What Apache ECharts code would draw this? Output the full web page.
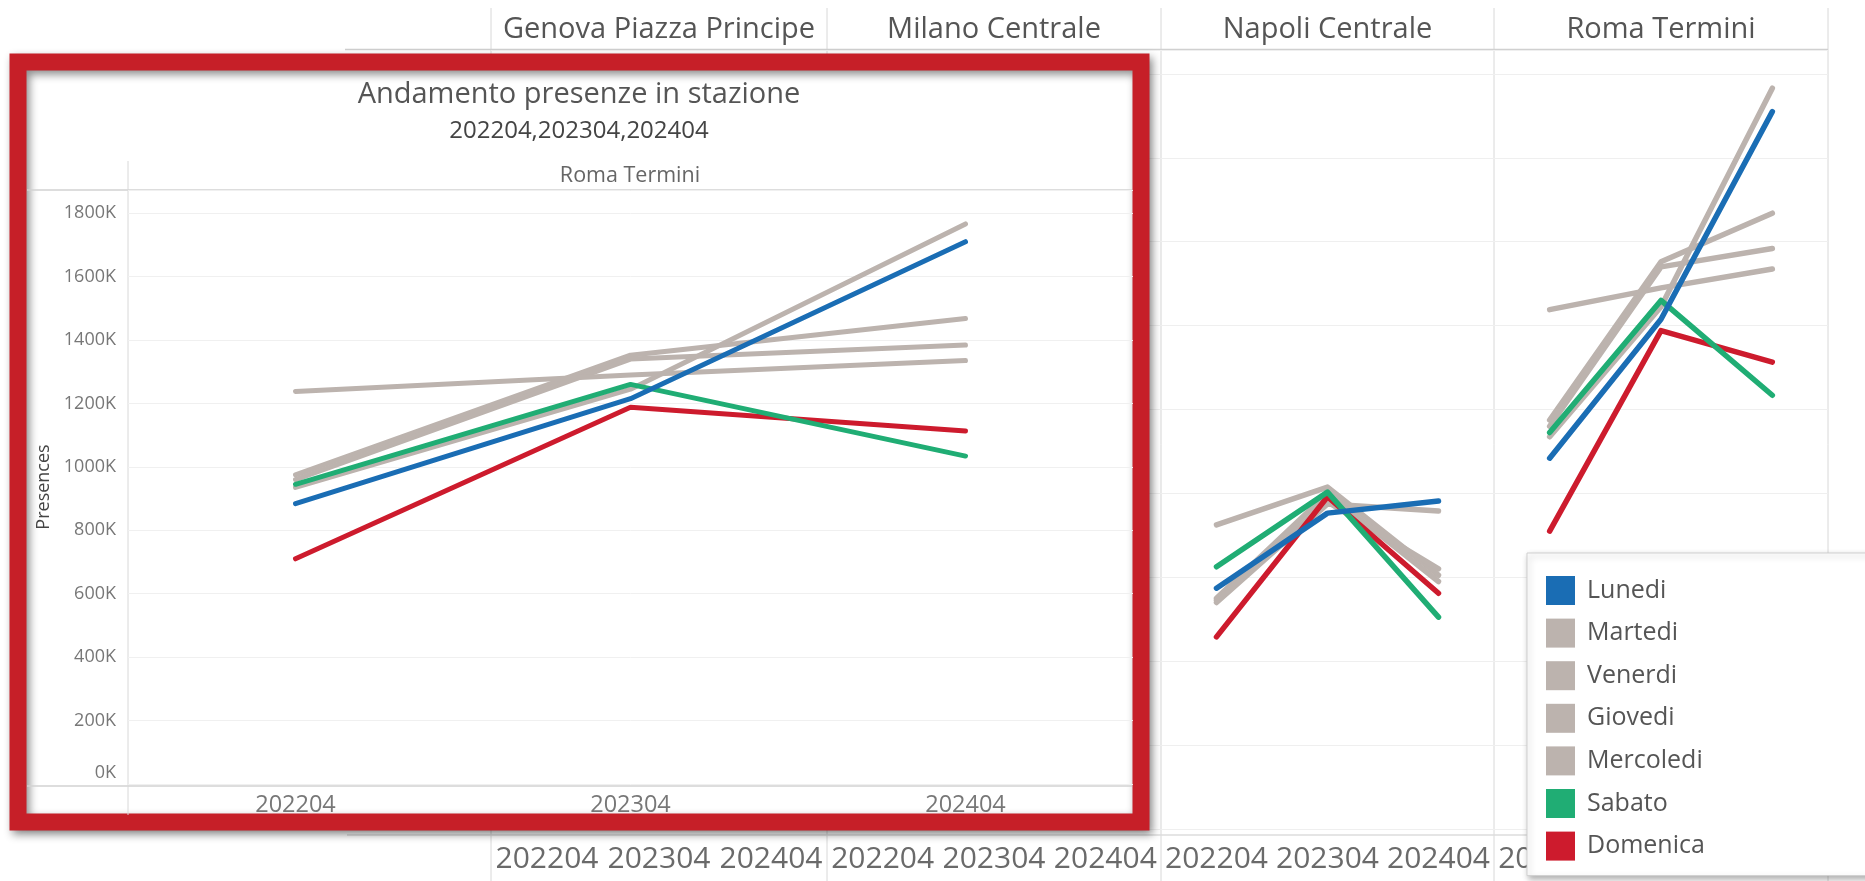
<!DOCTYPE html>
<html>
<head>
<meta charset="utf-8">
<title>Andamento presenze in stazione</title>
<script src="https://cdn.jsdelivr.net/npm/echarts@6/dist/echarts.min.js"></script>
<style>
    html, body { margin: 0; padding: 0; background: #fff; }
    #echarts { width: 1865px; height: 881px; }
</style>
</head>
<body>
<div id="echarts"></div>
<script>
// mesi e giorni
var mesi = ['202204', '202304', '202404'];
var giorni = ['Lunedi', 'Martedi', 'Venerdi', 'Giovedi', 'Mercoledi', 'Sabato', 'Domenica'];
var stazioni = ['Genova Piazza Principe', 'Milano Centrale', 'Napoli Centrale', 'Roma Termini'];

// Napoli Centrale
var napoliLunedi    = [574000, 753000, 782000];
var napoliMartedi   = [725000, 815000, 605000];
var napoliVenerdi   = [550000, 800000, 590000];
var napoliGiovedi   = [545000, 780000, 620000];
var napoliMercoledi = [540000, 775000, 758000];
var napoliSabato    = [625000, 803000, 505000];
var napoliDomenica  = [458000, 792000, 562000];

// Roma Termini
var romaLunedi    = [884000, 1215000, 1710000];
var romaMartedi   = [975000, 1352000, 1468000];
var romaVenerdi   = [935000, 1245000, 1766000];
var romaGiovedi   = [960000, 1340000, 1384000];
var romaMercoledi = [1238000, 1290000, 1335000];
var romaSabato    = [945000, 1260000, 1034000];
var romaDomenica  = [710000, 1188000, 1113000];

var napoli = {Lunedi: napoliLunedi, Martedi: napoliMartedi, Venerdi: napoliVenerdi, Giovedi: napoliGiovedi,
    Mercoledi: napoliMercoledi, Sabato: napoliSabato, Domenica: napoliDomenica};
var roma = {Lunedi: romaLunedi, Martedi: romaMartedi, Venerdi: romaVenerdi, Giovedi: romaGiovedi,
    Mercoledi: romaMercoledi, Sabato: romaSabato, Domenica: romaDomenica};

var colori = {Lunedi: '#1a6db4', Martedi: '#bcb3ae', Venerdi: '#bcb3ae', Giovedi: '#bcb3ae',
    Mercoledi: '#bcb3ae', Sabato: '#20ad74', Domenica: '#cd1b2d'};
// ordine di disegno: grigi sotto
var ordine = ['Martedi', 'Venerdi', 'Giovedi', 'Mercoledi', 'Domenica', 'Sabato', 'Lunedi'];

var font = '"Open Sans", sans-serif';
var seps = [491, 827, 1161, 1494, 1828];

var grid = [], xAxis = [], yAxis = [], series = [];

// pannelli di sfondo
for (var i = 0; i < 4; i++) {
    grid.push({left: seps[i], top: 50, width: seps[i + 1] - seps[i], height: 779});
    xAxis.push({
        type: 'category', gridIndex: i, data: mesi, boundaryGap: true,
        axisLine: {show: false}, axisTick: {show: false},
        axisLabel: {fontSize: 30, color: '#6a6a6a', margin: 15, fontFamily: font, interval: 0, hideOverlap: false}
    });
    yAxis.push({
        type: 'value', gridIndex: i, min: 0, max: 1857000, interval: 200000,
        axisLine: {show: false}, axisTick: {show: false}, axisLabel: {show: false},
        splitLine: {lineStyle: {color: '#efefef', width: 1}}
    });
}

// grafico in primo piano (Roma Termini)
grid.push({left: 128, top: 190, width: 1005, height: 594, z: 10});
xAxis.push({
    type: 'category', gridIndex: 4, data: mesi, boundaryGap: true, z: 10,
    axisLine: {show: false}, axisTick: {show: false},
    axisLabel: {fontSize: 23.5, color: '#777', margin: 9, fontFamily: font, interval: 0}
});
yAxis.push({
    type: 'value', gridIndex: 4, min: 0, max: 1873000, interval: 200000, z: 10,
    name: 'Presences', nameLocation: 'middle', nameRotate: 90, nameGap: 74,
    nameTextStyle: {fontSize: 18, color: '#444', fontFamily: font},
    axisLine: {show: false}, axisTick: {show: false},
    axisLabel: {
        fontSize: 18, color: '#777', margin: 12, fontFamily: font,
        formatter: function (v) {
            if (v % 200000 !== 0) return '';
            if (v === 0) return '{z|0K}';
            return (v / 1000) + 'K';
        },
        rich: {z: {fontSize: 18, color: '#777', fontFamily: font, padding: [0, 0, 22, 0]}}
    },
    splitLine: {lineStyle: {color: '#f0f0f0', width: 1}}
});

function aggiungiSerie(dati, idx, larghezza, z) {
    for (var k = 0; k < ordine.length; k++) {
        var g = ordine[k];
        series.push({
            name: g, type: 'line', xAxisIndex: idx, yAxisIndex: idx,
            data: dati[g], symbol: 'none', silent: true, z: z,
            itemStyle: {color: colori[g]},
            lineStyle: {color: colori[g], width: larghezza, cap: 'round', join: 'round'}
        });
    }
}
aggiungiSerie(napoli, 2, 5.5, 1);
aggiungiSerie(roma, 3, 5.5, 1);
aggiungiSerie(roma, 4, 5, 12);

// testi e riquadri
var graphic = [];
for (var s = 0; s < seps.length; s++) {
    graphic.push({type: 'line', z: 0, silent: true,
        shape: {x1: seps[s], y1: 8, x2: seps[s], y2: 881},
        style: {stroke: '#d8d8d8', lineWidth: 1}});
}
graphic.push({type: 'line', z: 0, silent: true,
    shape: {x1: 345, y1: 49.5, x2: 1828, y2: 49.5}, style: {stroke: '#d0d0d0', lineWidth: 1.5}});
graphic.push({type: 'line', z: 0, silent: true,
    shape: {x1: 347, y1: 835, x2: 1828, y2: 835}, style: {stroke: '#dcdcdc', lineWidth: 1.5}});
for (var c = 0; c < stazioni.length; c++) {
    graphic.push({type: 'text', z: 0, silent: true,
        style: {text: stazioni[c], x: (seps[c] + seps[c + 1]) / 2, y: 30,
            textAlign: 'center', textVerticalAlign: 'middle', align: 'center', verticalAlign: 'middle',
            fill: '#555', font: '29px ' + font}});
}

// riquadro rosso
graphic.push({type: 'rect', z: 3, silent: true,
    shape: {x: 18, y: 62, width: 1123, height: 760},
    style: {fill: '#fff', stroke: '#c61f28', lineWidth: 17,
        shadowBlur: 8, shadowOffsetX: 3, shadowOffsetY: 4, shadowColor: 'rgba(0,0,0,0.45)'}});
graphic.push({type: 'line', z: 6, silent: true,
    shape: {x1: 27, y1: 190, x2: 1132, y2: 190}, style: {stroke: '#d2d2d2', lineWidth: 1.5}});
graphic.push({type: 'line', z: 6, silent: true,
    shape: {x1: 27, y1: 786, x2: 1132, y2: 786}, style: {stroke: '#d2d2d2', lineWidth: 1.5}});
graphic.push({type: 'line', z: 6, silent: true,
    shape: {x1: 128, y1: 161, x2: 128, y2: 815}, style: {stroke: '#d8d8d8', lineWidth: 1}});

var testi = [
    {t: 'Andamento presenze in stazione', x: 579, y: 95, f: '29px', col: '#555'},
    {t: mesi.join(','), x: 579, y: 131, f: '24px', col: '#444'},
    {t: 'Roma Termini', x: 630, y: 176, f: '21.5px', col: '#666'}
];
for (var j = 0; j < testi.length; j++) {
    graphic.push({type: 'text', z: 6, silent: true,
        style: {text: testi[j].t, x: testi[j].x, y: testi[j].y,
            textAlign: 'center', textVerticalAlign: 'middle', align: 'center', verticalAlign: 'middle',
            fill: testi[j].col, font: testi[j].f + ' ' + font}});
}

var myChart = echarts.init(document.getElementById('echarts'));
var option = {
    animation: false,
    backgroundColor: '#fff',
    grid: grid,
    xAxis: xAxis,
    yAxis: yAxis,
    legend: {
        data: giorni, orient: 'vertical', left: 1527, top: 553, z: 20,
        icon: 'rect', itemWidth: 29, itemHeight: 29, itemGap: 13.6,
        padding: [23, 200, 15, 19],
        backgroundColor: '#fff', borderColor: '#d0d0d0', borderWidth: 1,
        shadowBlur: 6, shadowColor: 'rgba(0,0,0,0.3)', shadowOffsetX: 2, shadowOffsetY: 3,
        selectedMode: false,
        textStyle: {fontSize: 25, color: '#555', fontFamily: font, lineHeight: 29, padding: [0, 0, 0, 7]}
    },
    graphic: graphic,
    series: series
};
myChart.setOption(option);
</script>
</body>
</html>
